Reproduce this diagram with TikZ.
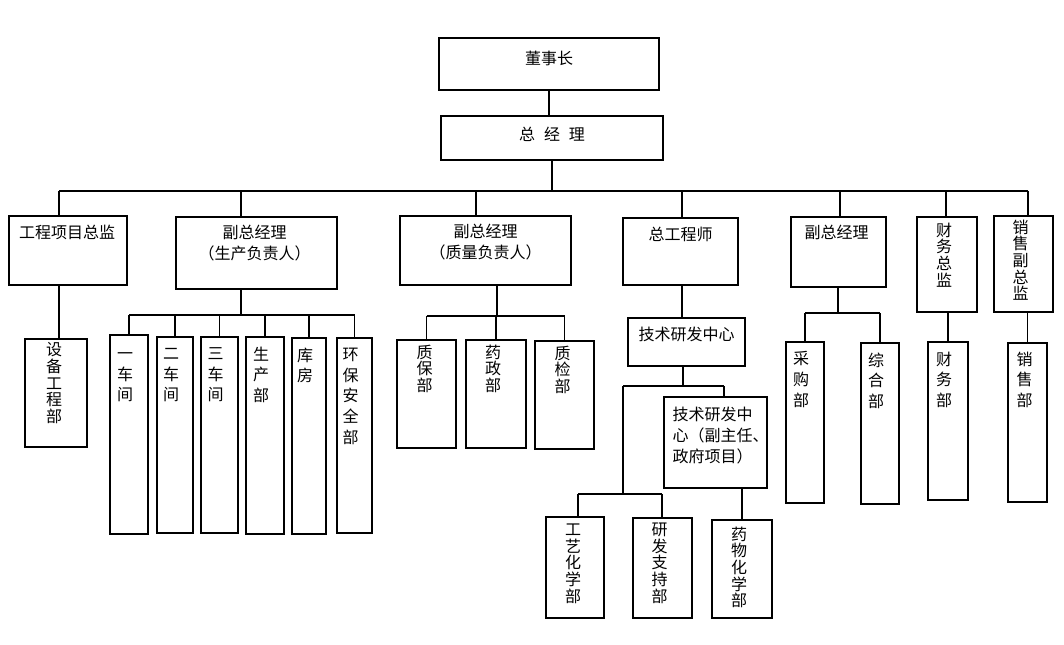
\documentclass[tikz,border=0pt]{standalone}
\usepackage{fontspec}
\newfontfamily\cjk{Noto Sans CJK SC}
\usetikzlibrary{fit,calc}
\newcommand\mybox[5]{\node[box, fit={(#2,#3) (#4,#5)}] (#1) {};}
\begin{document}
\begin{tikzpicture}[x=0.75pt,y=-0.75pt,
 box/.style={draw, line width=0.9pt, inner sep=0pt},
 ln/.style={line width=0.8pt},
 ht/.style={font=\cjk\fontsize{12}{15.75}\selectfont, inner sep=0pt, align=center, anchor=north},
 vt/.style={font=\cjk\fontsize{12}{12.5}\selectfont, inner sep=0pt, align=center, anchor=north},
 vl/.style={font=\cjk\fontsize{12}{15.5}\selectfont, inner sep=0pt, align=center, anchor=north}]
\useasboundingbox (0,0) rectangle (1064,645);
\fill[white] (0,0) rectangle (1064,645);

% boxes
\mybox{dsz}{439}{38}{659}{90}
\mybox{zjl}{441}{116}{663}{160}
\mybox{gc}{9}{216}{127}{285}
\mybox{sc}{176}{217}{337}{289}
\mybox{zl}{400}{216}{571}{285}
\mybox{zgc}{623}{218}{738}{285}
\mybox{fr}{791}{217}{886}{287}
\mybox{cw}{917}{217}{977}{312}
\mybox{xs}{994}{216}{1053}{312}
\mybox{sb}{25}{339}{87}{447}
\mybox{c1}{110}{335}{148}{534}
\mybox{c2}{157}{337}{193}{533}
\mybox{c3}{201}{337}{238}{533}
\mybox{c4}{246}{337}{284}{534}
\mybox{c5}{292}{338}{326}{534}
\mybox{c6}{337}{338}{372}{533}
\mybox{q1}{397}{340}{456}{448}
\mybox{q2}{466}{340}{526}{448}
\mybox{q3}{535}{341}{594}{449}
\mybox{js}{628}{318}{745}{366}
\mybox{js2}{664}{397}{767}{488}
\mybox{gy}{546}{517}{604}{618}
\mybox{yf}{633}{518}{692}{618}
\mybox{yw}{712}{520}{772}{618}
\mybox{cg}{786}{342}{824}{503}
\mybox{zh}{861}{343}{899}{504}
\mybox{cwb}{928}{342}{968}{500}
\mybox{xsb}{1008}{343}{1047}{502}

% texts
\node[ht] (t-dsz) at ($(dsz.north)+(0,13)$) {董事长};
\node[ht] (t-zjl) at ($(zjl.north)+(0,11)$) {总\hspace{0.55em}经\hspace{0.55em}理};
\node[ht] (t-gc) at ($(gc.north)+(-1,9)$) {工程项目总监};
\node[ht] (t-sc) at ($(sc.north)+(-2,8)$) {副总经理\\（生产负责人）};
\node[ht] (t-zl) at ($(zl.north)+(0,8)$) {副总经理\\（质量负责人）};
\node[ht] (t-zgc) at ($(zgc.north)+(0,9)$) {总工程师};
\node[ht] (t-fr) at ($(fr.north)+(-2,8)$) {副总经理};
\node[vt] (t-cw) at ($(cw.north)+(-3,6)$) {\vphantom{国}财\\务\\总\\监};
\node[vt] (t-xs) at ($(xs.north)+(-3,4)$) {\vphantom{国}销\\售\\副\\总\\监};
\node[vt] (t-sb) at ($(sb.north)+(-2,4)$) {\vphantom{国}设\\备\\工\\程\\部};
\node[vl] (t-c1) at ($(c1.north)+(-4,12)$) {\vphantom{国}一\\车\\间};
\node[vl] (t-c2) at ($(c2.north)+(-4,10)$) {\vphantom{国}二\\车\\间};
\node[vl] (t-c3) at ($(c3.north)+(-4,10)$) {\vphantom{国}三\\车\\间};
\node[vl] (t-c4) at ($(c4.north)+(-4,10)$) {\vphantom{国}生\\产\\部};
\node[vl] (t-c5) at ($(c5.north)+(-4,10)$) {\vphantom{国}库\\房};
\node[vl] (t-c6) at ($(c6.north)+(-4,10)$) {\vphantom{国}环\\保\\安\\全\\部};
\node[vt] (t-q1) at ($(q1.north)+(-2,5)$) {\vphantom{国}质\\保\\部};
\node[vt] (t-q2) at ($(q2.north)+(-3,5)$) {\vphantom{国}药\\政\\部};
\node[vt] (t-q3) at ($(q3.north)+(-2,5)$) {\vphantom{国}质\\检\\部};
\node[ht] (t-js) at ($(js.north)+(0,9)$) {技术研发中心};
\node[ht, align=left, anchor=north west] (t-js2) at ($(js2.north west)+(9,10)$) {技术研发中\\心（副主任、\\政府项目）};
\node[vt] (t-gy) at ($(gy.north)+(-2,6)$) {\vphantom{国}工\\艺\\化\\学\\部};
\node[vt] (t-yf) at ($(yf.north)+(-3,5)$) {\vphantom{国}研\\发\\支\\持\\部};
\node[vt] (t-yw) at ($(yw.north)+(-3,7)$) {\vphantom{国}药\\物\\化\\学\\部};
\node[vl] (t-cg) at ($(cg.north)+(-4,10)$) {\vphantom{国}采\\购\\部};
\node[vl] (t-zh) at ($(zh.north)+(-4,10)$) {\vphantom{国}综\\合\\部};
\node[vl] (t-cwb) at ($(cwb.north)+(-4,10)$) {\vphantom{国}财\\务\\部};
\node[vl] (t-xsb) at ($(xsb.north)+(-3,9)$) {\vphantom{国}销\\售\\部};

% connectors
\draw[ln] (dsz.south) -- (dsz.south |- zjl.north);
\coordinate (d1) at (59,191);
\coordinate (d2) at (241,191);
\coordinate (d3) at (476,191);
\coordinate (d4) at (682,191);
\coordinate (d5) at (840,191);
\coordinate (d6) at (946,191);
\coordinate (d7) at (1028,191);
\draw[ln] (d1) -- (d7);
\draw[ln] (zjl.south) -- (zjl.south |- d1);
\foreach \d/\n in {d1/gc, d2/sc, d3/zl, d4/zgc, d5/fr, d6/cw, d7/xs}
  \draw[ln] (\d) -- (\d |- \n.north);
\draw[ln] (d1 |- gc.south) -- (d1 |- sb.north);

% production sub-bus
\coordinate (sbus) at (241,315);
\draw[ln] (sbus |- sc.south) -- (sbus);
\draw[ln] (c1.north |- sbus) -- (c6.north |- sbus);
\foreach \n in {c1,c2,c3,c4,c5,c6}
  \draw[ln] (\n.north) -- (\n.north |- sbus);

% quality sub-bus
\coordinate (qbus) at (497,316);
\draw[ln] (qbus |- zl.south) -- (qbus);
\draw[ln] (q1.north |- qbus) -- (q3.north |- qbus);
\foreach \n in {q1,q2,q3}
  \draw[ln] (\n.north) -- (\n.north |- qbus);

% chief engineer
\draw[ln] (d4 |- zgc.south) -- (d4 |- js.north);
\coordinate (jb) at (683,386);
\coordinate (jL) at (623,386);
\coordinate (jR) at (724,386);
\draw[ln] (jb |- js.south) -- (jb);
\draw[ln] (jL) -- (jR);
\draw[ln] (jR) -- (jR |- js2.north);
\coordinate (k0) at (623,494);
\coordinate (k1) at (578,494);
\coordinate (k2) at (662,494);
\draw[ln] (jL) -- (k0);
\draw[ln] (k1) -- (k2);
\draw[ln] (k1) -- (k1 |- gy.north);
\draw[ln] (k2) -- (k2 |- yf.north);
\draw[ln] (yw.north |- js2.south) -- (yw.north);

% right side
\coordinate (fbus) at (838,313);
\draw[ln] (fbus |- fr.south) -- (fbus);
\draw[ln] (cg.north |- fbus) -- (zh.north |- fbus);
\foreach \n in {cg,zh}
  \draw[ln] (\n.north) -- (\n.north |- fbus);
\draw[ln] (cwb.north |- cw.south) -- (cwb.north);
\draw[ln] (xsb.north |- xs.south) -- (xsb.north);
\end{tikzpicture}
\end{document}
